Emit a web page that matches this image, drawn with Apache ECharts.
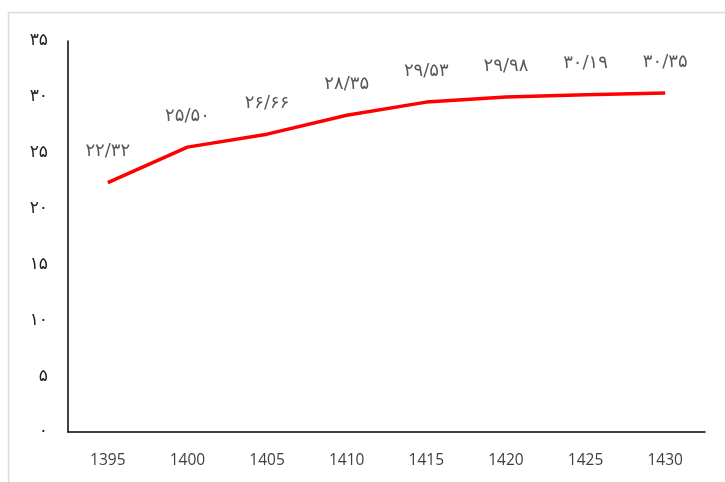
<!DOCTYPE html>
<html>
<head>
<meta charset="utf-8">
<script src="https://cdn.jsdelivr.net/npm/echarts@6/dist/echarts.min.js"></script>
<style>
html,body{margin:0;padding:0;background:#fff;}
#main{width:725px;height:482px;}
</style>
</head>
<body>
<div id="main"></div>
<script>
var categories = ['1395','1400','1405','1410','1415','1420','1425','1430'];
var values = [22.32, 25.50, 26.66, 28.35, 29.53, 29.98, 30.19, 30.35];
var yTicks = [0, 5, 10, 15, 20, 25, 30, 35];

var faDigits = ['۰','۱','۲','۳','۴','۵','۶','۷','۸','۹'];
function toFa(s){ return String(s).replace(/[0-9]/g, function(d){ return faDigits[+d]; }); }

var chart = echarts.init(document.getElementById('main'));
chart.setOption({
  backgroundColor: '#ffffff',
  animation: false,
  graphic: [{
    type: 'rect',
    shape: { x: 8.5, y: 12.5, width: 900, height: 700 },
    style: { fill: 'none', stroke: '#d9d9d9', lineWidth: 1.5 },
    silent: true
  }],
  grid: { left: 68, right: 20, top: 41, bottom: 50 },
  xAxis: {
    type: 'category',
    data: categories,
    boundaryGap: true,
    axisLine: { lineStyle: { color: '#000', width: 1.5 } },
    axisTick: { show: false },
    axisLabel: { margin: 21, color: '#404040', fontSize: 15.5, fontFamily: 'Open Sans' },
    splitLine: { show: false }
  },
  yAxis: {
    type: 'value',
    min: 0, max: 35, interval: 5,
    axisLine: { show: true, lineStyle: { color: '#000', width: 1.5 } },
    axisTick: { show: false },
    splitLine: { show: false },
    axisLabel: {
      margin: 20, color: '#222', fontSize: 17, fontFamily: 'DejaVu Sans',
      formatter: function(v){ return toFa(v); }
    }
  },
  series: [{
    type: 'line',
    data: values,
    symbol: 'circle',
    symbolSize: 2,
    showSymbol: true,
    showAllSymbol: true,
    itemStyle: { color: 'rgba(255,0,0,0)', borderWidth: 0 },
    lineStyle: { color: '#ff0000', width: 3.5 },
    label: {
      show: true,
      position: 'top',
      distance: 21,
      color: '#595959',
      fontSize: 18,
      fontFamily: 'DejaVu Sans',
      formatter: function(p){ return toFa(Number(p.value).toFixed(2)).replace('.', '/'); }
    }
  }]
});
</script>
</body>
</html>
